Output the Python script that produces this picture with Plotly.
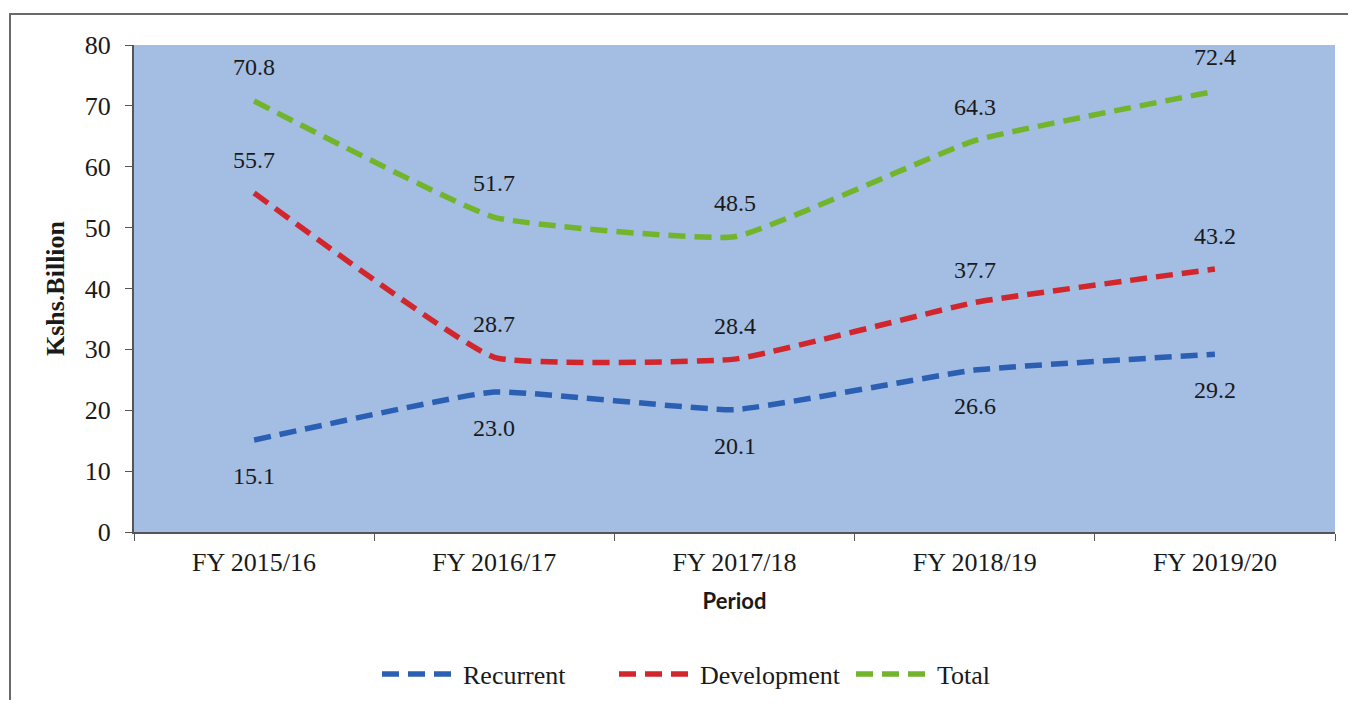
import plotly.graph_objects as go

periods = ["FY 2015/16", "FY 2016/17", "FY 2017/18", "FY 2018/19", "FY 2019/20"]
recurrent = [15.1, 23.0, 20.1, 26.6, 29.2]
development = [55.7, 28.7, 28.4, 37.7, 43.2]
total = [70.8, 51.7, 48.5, 64.3, 72.4]

series = [
    ("Recurrent", recurrent, "#2b5fb3", -36),
    ("Development", development, "#d1262b", 33),
    ("Total", total, "#72b52c", 34),
]

SERIF = "Liberation Serif, Times New Roman, serif"
SANS = "Lato, Liberation Sans, Arial, sans-serif"

fig = go.Figure()
annotations = []
for name, vals, color, yshift in series:
    fig.add_trace(go.Scatter(
        x=periods, y=vals, name=name, mode="lines",
        line=dict(color=color, width=5.5, dash="17px,9px", shape="spline", smoothing=0.35),
    ))
    for p, v in zip(periods, vals):
        annotations.append(dict(
            x=p, y=v, text=f"{v:.1f}", showarrow=False, yshift=yshift,
            font=dict(family=SERIF, size=24, color="#1a1a1a"),
        ))

# page has an 8px body margin; work in page pixels and convert
OFF = 8
W, H = 1356 - 2 * OFF, 708 - 2 * OFF
PL, PR, PT, PB = 134, 1335, 45, 532   # plot area in page pixels
L, R, T, B = PL - OFF, W - (PR - OFF), PT - OFF, H - (PB - OFF)
pw, ph = W - L - R, H - T - B

def px(x):
    return (x - PL) / pw

def py(y):
    return (PB - y) / ph

fig.update_layout(
    width=W, height=H,
    margin=dict(l=L, r=R, t=T, b=B, autoexpand=False),
    paper_bgcolor="white",
    plot_bgcolor="#a3bde3",
    annotations=annotations,
    showlegend=True,
    legend=dict(
        orientation="h", x=px(377), xanchor="left", y=py(674), yanchor="middle",
        font=dict(family=SERIF, size=26, color="#1a1a1a"),
        itemwidth=76, entrywidth=146, bgcolor="rgba(0,0,0,0)",
    ),
    xaxis=dict(
        showgrid=False, showline=True, linecolor="#555555", linewidth=2,
        ticks="outside", tickson="boundaries", ticklen=7, tickcolor="#555555",
        tickfont=dict(family=SERIF, size=26, color="#1a1a1a"),
        ticklabelstandoff=6, automargin=False,
        title=dict(text="<b>Period</b>", font=dict(family=SANS, size=22, color="#1a1a1a"), standoff=17),
        range=[-0.5, 4.5],
    ),
    yaxis=dict(
        range=[0, 80], dtick=10, showgrid=False, zeroline=False,
        showline=True, linecolor="#555555", linewidth=2,
        ticks="outside", ticklen=7, tickcolor="#555555",
        tickfont=dict(family=SERIF, size=26, color="#1a1a1a"),
        ticklabelstandoff=9, automargin=False,
        title=dict(text="<b>Kshs.Billion</b>", font=dict(family=SERIF, size=26, color="#1a1a1a"), standoff=13),
    ),
    shapes=[dict(
        type="rect", xref="paper", yref="paper",
        x0=px(10), x1=px(1362), y0=py(720), y1=py(14),
        line=dict(color="#6a6a6a", width=2), fillcolor="rgba(0,0,0,0)", layer="below",
    )],
)

fig.write_html("out.html")
